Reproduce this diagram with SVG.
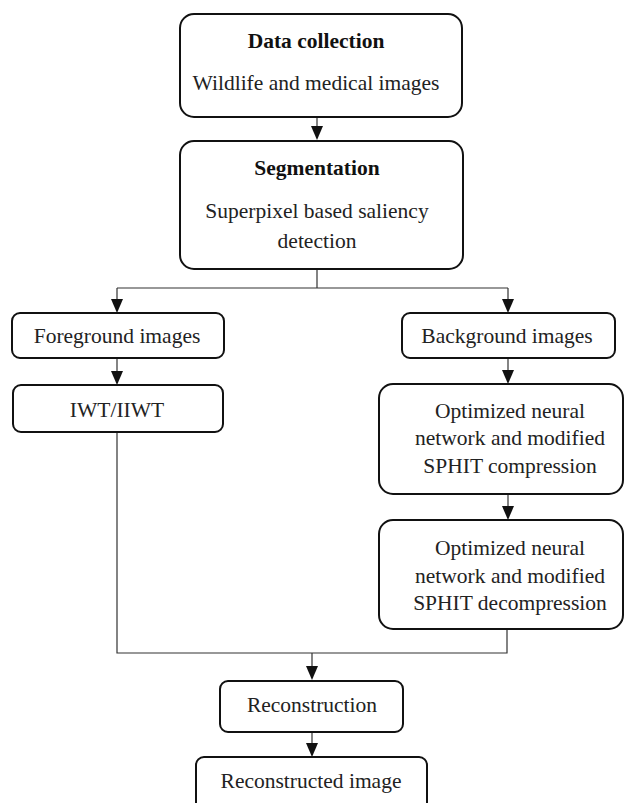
<svg xmlns="http://www.w3.org/2000/svg" width="625" height="803" viewBox="0 0 625 803">
<style>
.box{fill:#fff;stroke:#111;stroke-width:2}
.t{font-family:"Liberation Serif","Times New Roman",serif;font-size:21.5px;fill:#222;text-anchor:middle}
.b{font-weight:bold;fill:#111}
.c{fill:none;stroke:#333;stroke-width:1.2}
.ah{fill:#111}
</style>
<rect width="625" height="803" fill="#fff"/>
<g id="connectors">
<path class="c" d="M317,117 V127"/>
<path class="ah" d="M311,126 L323,126 L317,140 Z"/>
<path class="c" d="M317,269 V288 M117,288 H508 M117,288 V300 M508,288 V300"/>
<path class="ah" d="M111,299 L123,299 L117,313 Z"/>
<path class="ah" d="M502,299 L514,299 L508,313 Z"/>
<path class="c" d="M117,358 V372"/>
<path class="ah" d="M111,371 L123,371 L117,385 Z"/>
<path class="c" d="M508,358 V371"/>
<path class="ah" d="M502,370 L514,370 L508,384 Z"/>
<path class="c" d="M508,494 V507"/>
<path class="ah" d="M502,506 L514,506 L508,520 Z"/>
<path class="c" d="M117,432 V653 H507 V629 M312,653 V667"/>
<path class="ah" d="M306,666 L318,666 L312,680 Z"/>
<path class="c" d="M312,732 V744"/>
<path class="ah" d="M306,743 L318,743 L312,757 Z"/>
</g>
<g id="data-collection">
<rect class="box" x="180" y="14" width="282" height="103" rx="14"/>
<text class="t b" x="316" y="48">Data collection</text>
<text class="t" x="316" y="90">Wildlife and medical images</text>
</g>
<g id="segmentation">
<rect class="box" x="180" y="141" width="283" height="128" rx="14"/>
<text class="t b" x="317" y="175">Segmentation</text>
<text class="t" x="317" y="218">Superpixel based saliency</text>
<text class="t" x="317" y="248">detection</text>
</g>
<g id="foreground">
<rect class="box" x="12" y="313" width="212" height="45" rx="8"/>
<text class="t" x="117" y="343">Foreground images</text>
</g>
<g id="background">
<rect class="box" x="402" y="313" width="213" height="45" rx="8"/>
<text class="t" x="507" y="343">Background images</text>
</g>
<g id="iwt">
<rect class="box" x="13" y="385" width="210" height="47" rx="8"/>
<text class="t" x="117" y="417">IWT/IIWT</text>
</g>
<g id="compression">
<rect class="box" x="379" y="384" width="244" height="110" rx="14"/>
<text class="t" x="510" y="418">Optimized neural</text>
<text class="t" x="510" y="445">network and modified</text>
<text class="t" x="510" y="473">SPHIT compression</text>
</g>
<g id="decompression">
<rect class="box" x="379" y="520" width="244" height="109" rx="14"/>
<text class="t" x="510" y="555">Optimized neural</text>
<text class="t" x="510" y="583">network and modified</text>
<text class="t" x="510" y="610">SPHIT decompression</text>
</g>
<g id="reconstruction">
<rect class="box" x="220" y="681" width="183" height="51" rx="8"/>
<text class="t" x="312" y="712">Reconstruction</text>
</g>
<g id="reconstructed-image">
<rect class="box" x="196" y="757" width="231" height="60" rx="8"/>
<text class="t" x="311" y="788">Reconstructed image</text>
</g>
</svg>
